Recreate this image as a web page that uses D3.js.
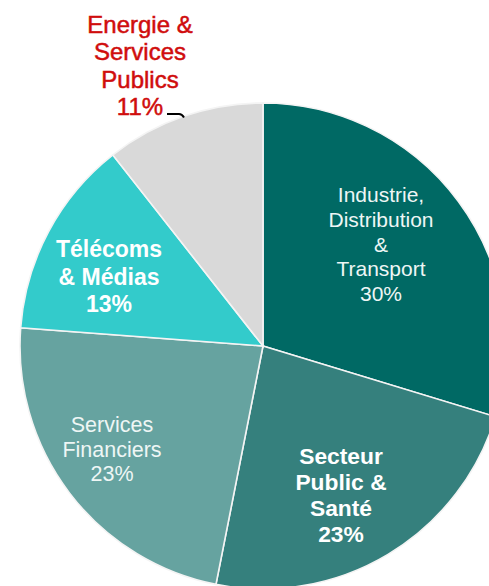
<!DOCTYPE html>
<html><head><meta charset="utf-8">
<script src="https://cdn.jsdelivr.net/npm/d3@7"></script>
<style>html,body{margin:0;padding:0;background:#fff;overflow:hidden}</style>
</head><body>
<svg id="c" width="489" height="586"></svg>
<script>
const categories = ["Industrie, Distribution & Transport", "Secteur Public & Santé", "Services Financiers", "Télécoms & Médias", "Energie & Services Publics"];
const values = [29.7, 23.4, 23.1, 13.2, 10.6];
const labelLines = [["Industrie,", "Distribution", "&", "Transport"], ["Secteur", "Public &", "Santé"], ["Services", "Financiers"], ["Télécoms", "& Médias"], ["Energie &", "Services", "Publics"]];
const percentLabels = ["30%", "23%", "23%", "13%", "11%"];
const colors = ["#006964", "#35807d", "#66a3a0", "#33cbcb", "#d9d9d9"];

// layout (not data)
const cx = 263, cy = 346, R = 243;
const labelLayout = [
  {x: 381, y: 244, fs: 21, lh: 24.6, w: "normal", fill: "#eef6f5", sw: 0},
  {x: 341, y: 495, fs: 22.8, lh: 25.8, w: "bold", fill: "#ffffff", sw: 0},
  {x: 112, y: 449, fs: 21.5, lh: 24.5, w: "normal", fill: "#eef6f5", sw: 0},
  {x: 109, y: 276.5, fs: 23, lh: 27.5, w: "bold", fill: "#ffffff", sw: 0},
  {x: 140, y: 65.5, fs: 24, lh: 27.6, w: "normal", fill: "#d00d0d", sw: 0.5}
];

const svg = d3.select("#c");
const g = svg.append("g").attr("transform", `translate(${cx},${cy})`);
const pie = d3.pie().sort(null).value(d => d)(values);
const arc = d3.arc().innerRadius(0).outerRadius(R);
g.selectAll("path.slice").data(pie).enter().append("path")
  .attr("class", "slice")
  .attr("d", arc)
  .attr("fill", (d, i) => colors[i])
  .attr("stroke", "#f4f4f4")
  .attr("stroke-width", 1.6);

labelLayout.forEach((L, i) => {
  const lines = labelLines[i].concat([percentLabels[i]]);
  const n = lines.length;
  const t = svg.append("text")
    .attr("text-anchor", "middle")
    .attr("font-family", "Liberation Sans, Arial, sans-serif")
    .attr("font-size", L.fs)
    .attr("font-weight", L.w)
    .attr("fill", L.fill);
  if (L.sw) t.attr("stroke", L.fill).attr("stroke-width", L.sw);
  lines.forEach((s, j) => {
    const capCenter = L.y + (j - (n - 1) / 2) * L.lh;
    t.append("tspan").attr("x", L.x).attr("y", capCenter + 0.358 * L.fs).text(s);
  });
});

// leader line for the outside label
const pt = d3.path();
pt.moveTo(167, 114); pt.lineTo(179, 114); pt.quadraticCurveTo(182, 114, 184, 117.5);
svg.append("path").attr("d", pt.toString()).attr("fill", "none").attr("stroke", "#000").attr("stroke-width", 2);
</script>
</body></html>
